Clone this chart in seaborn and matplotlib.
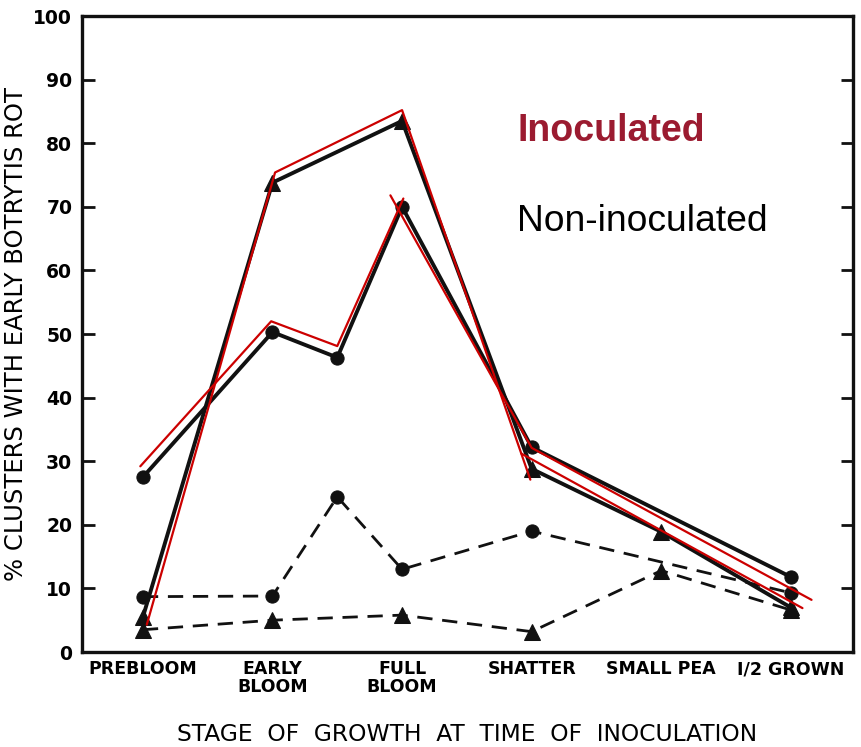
import numpy as np
import pandas as pd
import matplotlib
matplotlib.use("Agg")
import matplotlib.pyplot as plt
import seaborn as sns

# ---- data ----
stages = ["PREBLOOM", "EARLY\nBLOOM", "FULL\nBLOOM", "SHATTER", "SMALL PEA", "I/2 GROWN"]
stage_pos = [0, 1, 2, 3, 4, 5]

inoc_circle_x = [0, 1, 1.5, 2, 3, 5]
inoc_circle_y = [27.5, 50.3, 46.3, 70.0, 32.2, 11.8]

inoc_tri_x = [0, 1, 2, 3, 4, 5]
inoc_tri_y = [5.5, 73.8, 83.5, 28.8, 18.9, 7.0]

non_circle_x = [0, 1, 1.5, 2, 3, 5]
non_circle_y = [8.7, 8.8, 24.4, 13.0, 19.0, 9.3]

non_tri_x = [0, 1, 2, 3, 4, 5]
non_tri_y = [3.5, 5.0, 5.8, 3.2, 12.8, 6.6]

# red hand-drawn traces over the inoculated curves
red_circle_a_x = [-0.02, 0.99, 1.50, 2.01]
red_circle_a_y = [29.2, 52.0, 48.1, 71.3]
red_circle_b_x = [1.91, 3.0, 5.16]
red_circle_b_y = [71.8, 32.1, 8.2]
red_tri_a_x = [0.03, 1.02, 2.0, 2.99]
red_tri_a_y = [4.3, 75.4, 85.2, 27.1]
red_tri_b_x = [2.92, 5.09]
red_tri_b_y = [31.2, 6.9]

y_ticks = [0, 10, 20, 30, 40, 50, 60, 70, 80, 90, 100]

# ---- style ----
sns.set_style("white")
plt.rcParams["font.family"] = ["DejaVu Sans"]
plt.rcParams["text.color"] = "black"
plt.rcParams["axes.labelcolor"] = "black"
plt.rcParams["xtick.color"] = "black"
plt.rcParams["ytick.color"] = "black"

fig = plt.figure(figsize=(8.61, 7.47), dpi=100)
ax = fig.add_axes([82 / 861, 1 - 652 / 747, (853 - 82) / 861, (652 - 16) / 747])

black = "#111111"
dash = (0, (5.5, 3.5))

sns.lineplot(x=inoc_circle_x, y=inoc_circle_y, ax=ax, sort=False, color=black,
             lw=2.8, marker="o", markersize=9.5, markeredgecolor=black, zorder=3)
sns.lineplot(x=inoc_tri_x, y=inoc_tri_y, ax=ax, sort=False, color=black,
             lw=2.8, marker="^", markersize=11, markeredgecolor=black, zorder=3)
sns.lineplot(x=non_circle_x, y=non_circle_y, ax=ax, sort=False, color=black,
             lw=2.0, linestyle=dash, marker="o", markersize=9.5,
             markeredgecolor=black, zorder=3)
sns.lineplot(x=non_tri_x, y=non_tri_y, ax=ax, sort=False, color=black,
             lw=2.0, linestyle=dash, marker="^", markersize=11,
             markeredgecolor=black, zorder=3)

red = "#cc0000"
for rx, ry in [(red_circle_a_x, red_circle_a_y), (red_circle_b_x, red_circle_b_y),
               (red_tri_a_x, red_tri_a_y), (red_tri_b_x, red_tri_b_y)]:
    sns.lineplot(x=rx, y=ry, ax=ax, sort=False, color=red, lw=1.6, zorder=4)

ax.set_xlim(-0.47, 5.48)
ax.set_ylim(0, 100)
ax.set_xticks(stage_pos)
ax.set_xticklabels(stages, fontsize=12.5, fontweight="bold", linespacing=0.95,
                   color="black")
ax.set_yticks(y_ticks)
ax.set_yticklabels([str(v) for v in y_ticks], fontsize=13.5, fontweight="bold",
                   color="black")

ax.tick_params(axis="both", direction="in", length=9, width=2, color=black)
ax.tick_params(axis="y", right=True, left=True, pad=7)
ax.tick_params(axis="x", pad=6)

for s in ax.spines.values():
    s.set_visible(True)
    s.set_linewidth(2.4)
    s.set_color(black)

ax.set_ylabel("% CLUSTERS WITH EARLY BOTRYTIS ROT", fontsize=17.5, labelpad=4,
              color="black")
ax.set_xlabel("STAGE  OF  GROWTH  AT  TIME  OF  INOCULATION", fontsize=16.8,
              labelpad=20, color="black")

ax.text(2.89, 80.4, "Inoculated", fontsize=27, fontweight="bold", color="#9b1b30",
        family="Liberation Sans", va="baseline", ha="left")
ax.text(2.89, 66.2, "Non-inoculated", fontsize=26.8, color="black",
        family="Liberation Sans", va="baseline", ha="left")

fig.savefig("out.png", dpi=100)
